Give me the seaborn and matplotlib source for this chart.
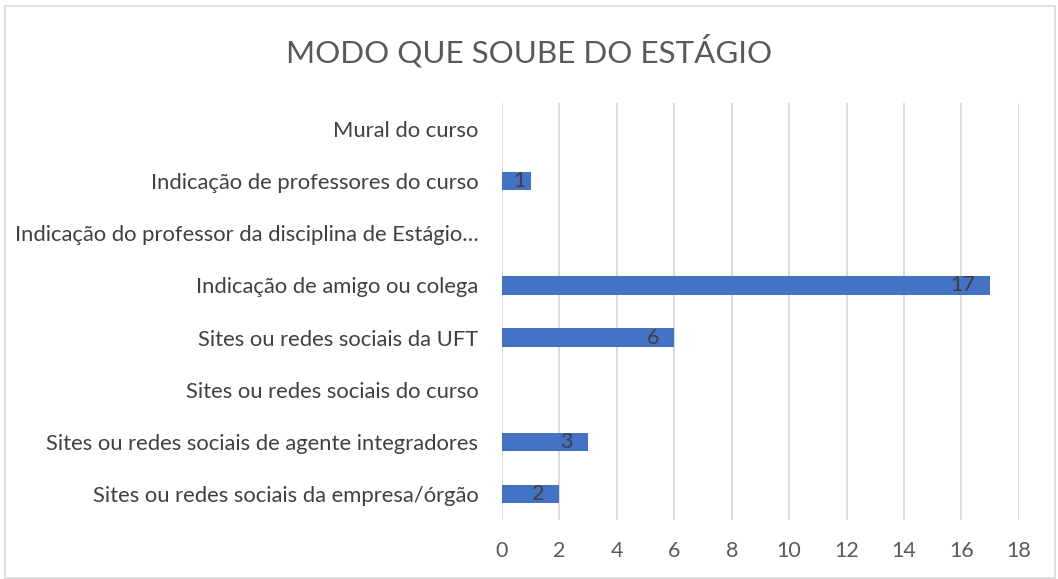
import matplotlib
matplotlib.use("Agg")
import matplotlib.pyplot as plt
import seaborn as sns
import pandas as pd
from matplotlib.patches import Rectangle

categories = [
    "Mural do curso",
    "Indicação de professores do curso",
    "Indicação do professor da disciplina de Estágio…",
    "Indicação de amigo ou colega",
    "Sites ou redes sociais da UFT",
    "Sites ou redes sociais do curso",
    "Sites ou redes sociais de agente integradores",
    "Sites ou redes sociais da empresa/órgão",
]
values = [0, 1, 0, 17, 6, 0, 3, 2]
xticks = [0, 2, 4, 6, 8, 10, 12, 14, 16, 18]
title = "MODO QUE SOUBE DO ESTÁGIO"

sns.set_theme(style="white")
plt.rcParams["font.family"] = ["Lato", "DejaVu Sans"]

df = pd.DataFrame({"cat": categories, "val": values})

fig = plt.figure(figsize=(10.58, 5.79), dpi=100)
ax = fig.add_axes([0.4745, 0.102, 0.4885, 0.720])
sns.barplot(data=df, y="cat", x="val", orient="h", color="#4472C4",
            width=0.35, saturation=1, ax=ax, linewidth=0)

ax.set_xlim(0, 18)
ax.set_ylim(len(categories) - 0.5, -0.5)
ax.set_xticks(xticks)
ax.set_xticklabels([str(t) for t in xticks])
ax.set_xlabel("")
ax.set_ylabel("")
ax.grid(axis="x", color="#D9D9D9", linewidth=1.3)
ax.set_axisbelow(True)
for s in ax.spines.values():
    s.set_visible(False)
ax.tick_params(axis="x", length=0, pad=15, labelsize=15.5, labelcolor="#595959")
ax.tick_params(axis="y", length=0, pad=17, labelsize=15.8, labelcolor="#404040")

for patch, v in zip(ax.patches, values):
    if v == 0:
        continue
    y = patch.get_y() + patch.get_height() / 2
    off = -4 if v < 2 else -11
    ax.annotate(str(v), xy=(patch.get_width(), y), xytext=(off, 0),
                textcoords="offset points", ha="right", va="center",
                fontsize=15.5, color="#404040")

fig.text(0.5, 0.912, title, ha="center", va="center", fontsize=22.6,
         color="#595959")

fig.patches.append(Rectangle((0.005, 0.002), 0.992, 0.987, transform=fig.transFigure,
                             fill=False, edgecolor="#D9D9D9", linewidth=1.2))

fig.savefig("out.png", dpi=100)
